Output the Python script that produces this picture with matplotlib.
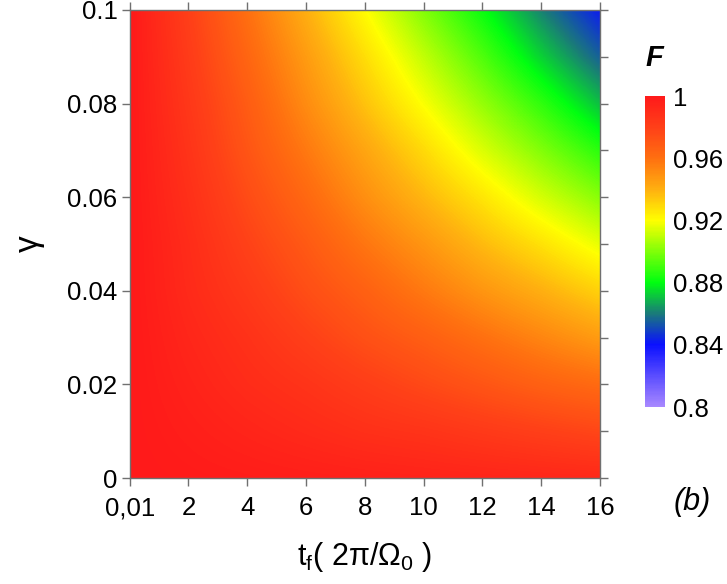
import numpy as np
import matplotlib
matplotlib.use("Agg")
import matplotlib.pyplot as plt
from matplotlib.colors import LinearSegmentedColormap, Normalize

plt.rcParams['font.family'] = ['Liberation Sans', 'DejaVu Sans']
plt.rcParams['mathtext.fontset'] = 'custom'
plt.rcParams['mathtext.rm'] = 'Liberation Sans'
plt.rcParams['mathtext.it'] = 'Liberation Sans:italic'
plt.rcParams['mathtext.default'] = 'regular'

# grid of t_f (2pi/Omega_0) and gamma, with fidelity F
t_f = [0.01, 2, 4, 6, 8, 10, 12, 14, 16]
gamma = [0.0, 0.01, 0.02, 0.03, 0.04, 0.05, 0.06, 0.07, 0.08, 0.09, 0.10]
F = [
    [1.000, 0.999, 0.998, 0.997, 0.996, 0.995, 0.994, 0.993, 0.992],
    [1.000, 0.997, 0.994, 0.991, 0.988, 0.986, 0.983, 0.980, 0.977],
    [1.000, 0.995, 0.990, 0.986, 0.981, 0.976, 0.971, 0.966, 0.962],
    [1.000, 0.993, 0.987, 0.980, 0.973, 0.967, 0.960, 0.953, 0.946],
    [1.000, 0.991, 0.983, 0.974, 0.966, 0.957, 0.948, 0.940, 0.931],
    [1.000, 0.990, 0.979, 0.969, 0.958, 0.948, 0.937, 0.927, 0.916],
    [1.000, 0.988, 0.975, 0.963, 0.950, 0.938, 0.926, 0.913, 0.901],
    [1.000, 0.986, 0.971, 0.957, 0.943, 0.929, 0.914, 0.900, 0.886],
    [1.000, 0.984, 0.968, 0.951, 0.935, 0.919, 0.903, 0.887, 0.870],
    [1.000, 0.982, 0.964, 0.946, 0.928, 0.910, 0.892, 0.873, 0.855],
    [1.000, 0.980, 0.960, 0.940, 0.920, 0.900, 0.881, 0.861, 0.842],
]

x_ticks = [0.01, 2, 4, 6, 8, 10, 12, 14, 16]
x_ticklabels = ['0,01', '2', '4', '6', '8', '10', '12', '14', '16']
y_ticks = [0, 0.02, 0.04, 0.06, 0.08, 0.1]
y_ticklabels = ['0', '0.02', '0.04', '0.06', '0.08', '0.1']
cb_ticks = [0.8, 0.84, 0.88, 0.92, 0.96, 1.0]
cb_ticklabels = ['0.8', '0.84', '0.88', '0.92', '0.96', '1']

# colour scale as in the original figure
cmap = LinearSegmentedColormap.from_list('fid', [
    (0.00, '#a888ff'),
    (0.20, '#0a10ff'),
    (0.30, '#1a7a7a'),
    (0.40, '#00ff10'),
    (0.60, '#ffff00'),
    (0.70, '#ffb010'),
    (0.80, '#ff7010'),
    (0.90, '#ff4018'),
    (1.00, '#ff1a1a'),
])
norm = Normalize(vmin=0.8, vmax=1.0)

fig = plt.figure(figsize=(7.27, 5.84), dpi=100)
ax = fig.add_axes([0.1788, 0.1815, 0.6465, 0.8014])

# grid points are cell centres; the axis limits cut the half cells off
dt = t_f[-1] - t_f[-2]
dg = gamma[1] - gamma[0]
img = ax.imshow(np.array(F), cmap=cmap, norm=norm, origin='lower',
                interpolation='bilinear', aspect='auto',
                extent=[t_f[0] - dt / 2, t_f[-1] + dt / 2,
                        gamma[0] - dg / 2, gamma[-1] + dg / 2])

ax.set_xlim(0.01, 16)
ax.set_ylim(0, 0.1)
ax.set_xticks(x_ticks)
ax.set_xticklabels(x_ticklabels)
ax.set_yticks(y_ticks)
ax.set_yticklabels(y_ticklabels)
ax.tick_params(direction='out', length=6, width=1, color='#707070',
               labelsize=18.5, top=True, right=True, labeltop=False, labelright=False)
ax.tick_params(axis='x', pad=7)
ax.tick_params(axis='y', pad=3)
ax.set_yticks(np.arange(0, 0.101, 0.01), minor=True)
ax.tick_params(axis='y', which='minor', left=False, right=True,
               direction='out', length=6, width=1, color='#707070')
for sp in ax.spines.values():
    sp.set_color('#707070')
    sp.set_linewidth(1)

ax.set_xlabel('t$_f$( 2π/Ω$_0$ )', fontsize=22, labelpad=14)
ax.set_ylabel('γ', fontsize=24, labelpad=16)

# colour bar
cax = fig.add_axes([0.887, 0.303, 0.0275, 0.5325])
cb = fig.colorbar(img, cax=cax, ticks=cb_ticks)
cb.set_ticklabels(cb_ticklabels)
cb.outline.set_visible(False)
cax.tick_params(length=0, labelsize=18.5, pad=6)
fig.text(0.9, 0.9, 'F', fontsize=21, fontweight='bold', style='italic',
         ha='center', va='center')

fig.text(0.952, 0.14, '(b)', fontsize=22, style='italic', ha='center', va='center')

fig.savefig('out.png', dpi=100)
